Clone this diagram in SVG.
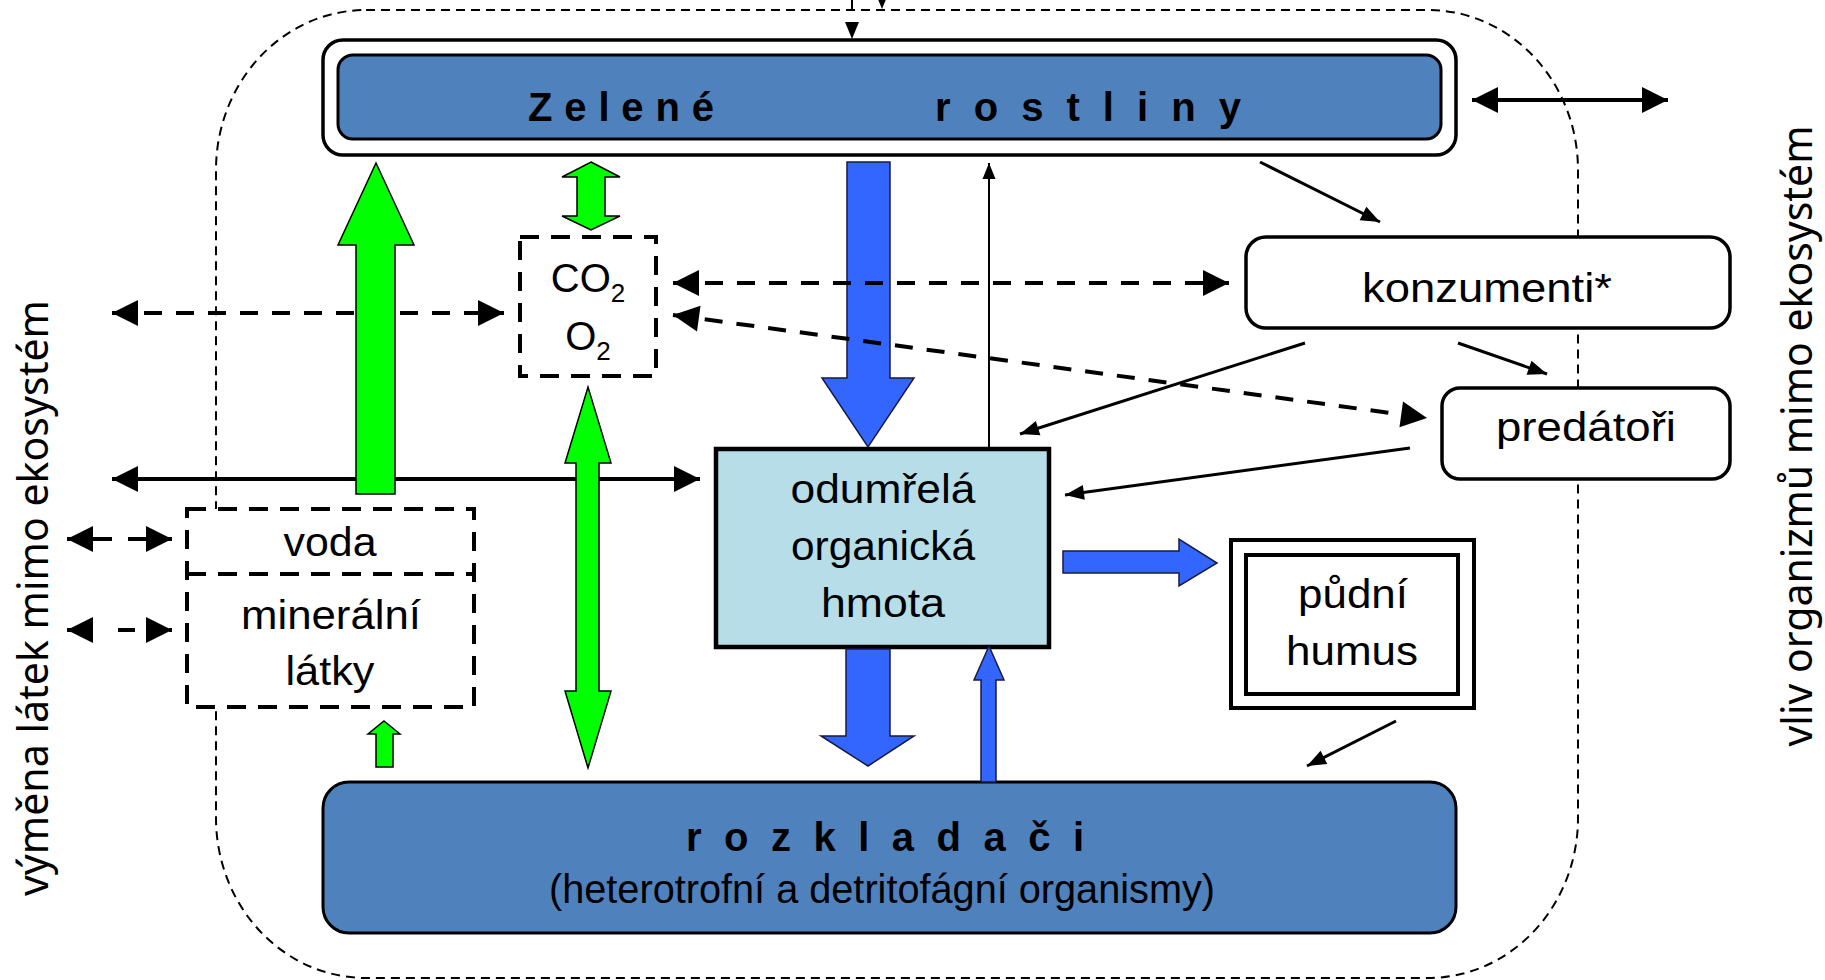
<svg xmlns="http://www.w3.org/2000/svg" width="1825" height="980" viewBox="0 0 1825 980">
  <style>
    .lbl { font-family: "Liberation Sans", Arial, sans-serif; font-size: 40px; fill: #000; text-anchor: middle; }
    .title { font-family: "Liberation Sans", Arial, sans-serif; font-size: 40px; font-weight: bold; fill: #000; }
    .side { font-family: "Noto Sans", "DejaVu Sans", sans-serif; font-size: 42px; fill: #000; text-anchor: middle; }
    .box { fill: #fff; stroke: #000; stroke-width: 3.5; }
    .dbox { fill: #fff; stroke: #000; stroke-width: 4; stroke-dasharray: 19 12; }
    .blueBox { fill: #4f81bd; stroke: #000; stroke-width: 3; }
    .green { fill: #00ff00; stroke: #000; stroke-width: 1.5; stroke-linejoin: miter; }
    .blue { fill: #3366ff; stroke: #1a1a40; stroke-width: 1.5; }
    .thick { stroke: #000; stroke-width: 4; fill: none; }
    .thickDash { stroke: #000; stroke-width: 4; fill: none; stroke-dasharray: 18 14; }
    .thin { stroke: #000; stroke-width: 3; fill: none; }
  </style>
  <defs>
    <marker id="big" markerUnits="userSpaceOnUse" markerWidth="27" markerHeight="27" refX="26" refY="13" orient="auto-start-reverse" overflow="visible">
      <path d="M0,0 L26,13 L0,26 z" fill="#000"/>
    </marker>
    <marker id="small" markerUnits="userSpaceOnUse" markerWidth="20" markerHeight="16" refX="19" refY="7.5" orient="auto" overflow="visible">
      <path d="M0,0 L19,7.5 L0,15 z" fill="#000"/>
    </marker>
    <marker id="tiny" markerUnits="userSpaceOnUse" markerWidth="16" markerHeight="14" refX="16" refY="6.5" orient="auto" overflow="visible">
      <path d="M0,0 L16,6.5 L0,13 z" fill="#000"/>
    </marker>
  </defs>

  <rect width="1825" height="980" fill="#fff"/>

  <!-- ecosystem boundary -->
  <g id="boundary">
    <rect x="216" y="10" width="1362" height="968" rx="150" ry="160" fill="none" stroke="#000" stroke-width="2" stroke-dasharray="9 6"/>
    <line x1="852" y1="0" x2="852" y2="10" stroke="#000" stroke-width="2"/>
    <polygon points="845,22 859,22 852,39" fill="#000"/>
    <polygon points="875,-8 889,-8 882,9" fill="#000"/>
  </g>

  <!-- side captions -->
  <g id="caption-left">
    <text class="side" transform="translate(48,598) rotate(-90)" textLength="596" lengthAdjust="spacingAndGlyphs">výměna látek mimo ekosystém</text>
  </g>
  <g id="caption-right">
    <text class="side" transform="translate(1812,436) rotate(-90)" textLength="621" lengthAdjust="spacingAndGlyphs">vliv organizmů mimo ekosystém</text>
  </g>

  <!-- nodes -->
  <g id="zelene-rostliny">
    <rect x="323" y="40" width="1133" height="115" rx="20" class="box" stroke-width="3"/>
    <rect x="338" y="55" width="1103" height="84" rx="15" class="blueBox"/>
    <text class="title" x="528" y="121" textLength="186" lengthAdjust="spacing">Zelené</text>
    <text class="title" x="935" y="121" textLength="306" lengthAdjust="spacing">rostliny</text>
  </g>

  <g id="co2-o2">
    <rect x="520" y="237" width="136" height="139" class="dbox"/>
    <text class="lbl" x="588" y="292">CO<tspan font-size="26" dy="10">2</tspan></text>
    <text class="lbl" x="588" y="350">O<tspan font-size="26" dy="10">2</tspan></text>
  </g>

  <g id="konzumenti">
    <rect x="1246" y="237" width="484" height="91" rx="20" class="box"/>
    <text class="lbl" x="1487" y="302" textLength="250" lengthAdjust="spacingAndGlyphs">konzumenti*</text>
  </g>

  <g id="predatori">
    <rect x="1442" y="388" width="288" height="91" rx="18" class="box"/>
    <text class="lbl" x="1586" y="441" textLength="180" lengthAdjust="spacingAndGlyphs">predátoři</text>
  </g>

  <g id="voda-mineraly">
    <rect x="187" y="509" width="287" height="198" class="dbox"/>
    <line x1="187" y1="574" x2="474" y2="574" stroke="#000" stroke-width="4" stroke-dasharray="19 12"/>
    <text class="lbl" x="330" y="556" textLength="93" lengthAdjust="spacingAndGlyphs">voda</text>
    <text class="lbl" x="331" y="629" textLength="180" lengthAdjust="spacingAndGlyphs">minerální</text>
    <text class="lbl" x="330" y="685" textLength="89" lengthAdjust="spacingAndGlyphs">látky</text>
  </g>

  <g id="odumrela-hmota">
    <rect x="716" y="449" width="333" height="198" fill="#b7dee8" stroke="#000" stroke-width="4.5"/>
    <text class="lbl" x="883" y="503" textLength="185" lengthAdjust="spacingAndGlyphs">odumřelá</text>
    <text class="lbl" x="883" y="560" textLength="184" lengthAdjust="spacingAndGlyphs">organická</text>
    <text class="lbl" x="883" y="617" textLength="124" lengthAdjust="spacingAndGlyphs">hmota</text>
  </g>

  <g id="pudni-humus">
    <rect x="1231" y="540" width="243" height="168" fill="#fff" stroke="#000" stroke-width="4"/>
    <rect x="1246" y="555" width="212" height="139" fill="none" stroke="#000" stroke-width="4"/>
    <text class="lbl" x="1353" y="608" textLength="110" lengthAdjust="spacingAndGlyphs">půdní</text>
    <text class="lbl" x="1352" y="665" textLength="132" lengthAdjust="spacingAndGlyphs">humus</text>
  </g>

  <g id="rozkladaci">
    <rect x="323" y="782" width="1133" height="151" rx="26" class="blueBox"/>
    <text class="title" x="686" y="851" font-size="38" textLength="398" lengthAdjust="spacing">rozkladači</text>
    <text class="lbl" x="882" y="903" textLength="666" lengthAdjust="spacingAndGlyphs">(heterotrofní a detritofágní organismy)</text>
  </g>

  <!-- connectors -->
  <g id="connectors">
    <!-- exchange across the boundary -->
    <line x1="112" y1="479" x2="700" y2="479" class="thick" marker-start="url(#big)" marker-end="url(#big)"/>
    <line x1="112" y1="313" x2="504" y2="313" class="thickDash" marker-start="url(#big)" marker-end="url(#big)"/>
    <line x1="67" y1="539" x2="172" y2="539" stroke="#000" stroke-width="4" stroke-dasharray="19 16" stroke-dashoffset="9" marker-start="url(#big)" marker-end="url(#big)"/>
    <line x1="67" y1="630" x2="172" y2="630" stroke="#000" stroke-width="4" stroke-dasharray="17 34" marker-start="url(#big)" marker-end="url(#big)"/>
    <line x1="1472" y1="100" x2="1668" y2="100" class="thick" marker-start="url(#big)" marker-end="url(#big)"/>

    <!-- mineral flows (green) -->
    <polygon class="green" points="356,494 356,245 338,245 376,163 414,245 395,245 395,494"/>
    <polygon class="green" points="591,162 620,177 605,177 605,216 620,216 591,230 562,216 577,216 577,177 562,177"/>
    <polygon class="green" points="588,387 611,463 599,463 599,691 611,691 588,768 565,691 576,691 576,463 565,463"/>
    <polygon class="green" points="384,721 400,734 393,734 393,767 376,767 376,734 368,734"/>

    <!-- organic matter flows (blue) -->
    <polygon class="blue" points="847,162 890,162 890,378 914,378 868,447 822,378 847,378"/>
    <polygon class="blue" points="846,649 890,649 890,736 914,736 868,766 821,736 846,736"/>
    <polygon class="blue" points="981,782 996,782 996,680 1004,680 989,646 974,680 981,680"/>
    <polygon class="blue" points="1063,551 1179,551 1179,539 1217,563 1179,586 1179,573 1063,573"/>

    <!-- gas exchange (dashed) -->
    <line x1="673" y1="283" x2="1229" y2="283" class="thickDash" marker-start="url(#big)" marker-end="url(#big)"/>
    <line x1="673" y1="315" x2="1427" y2="418" class="thickDash" marker-start="url(#big)" marker-end="url(#big)"/>

    <!-- feeding relations -->
    <line x1="989" y1="448" x2="989" y2="163" stroke="#000" stroke-width="2" marker-end="url(#tiny)"/>
    <line x1="1260" y1="162" x2="1380" y2="222" class="thin" marker-end="url(#small)"/>
    <line x1="1305" y1="343" x2="1020" y2="434" class="thin" marker-end="url(#small)"/>
    <line x1="1458" y1="343" x2="1547" y2="374" class="thin" marker-end="url(#small)"/>
    <line x1="1410" y1="448" x2="1065" y2="495" class="thin" marker-end="url(#small)"/>
    <line x1="1396" y1="721" x2="1307" y2="766" class="thin" marker-end="url(#small)"/>
  </g>
</svg>
